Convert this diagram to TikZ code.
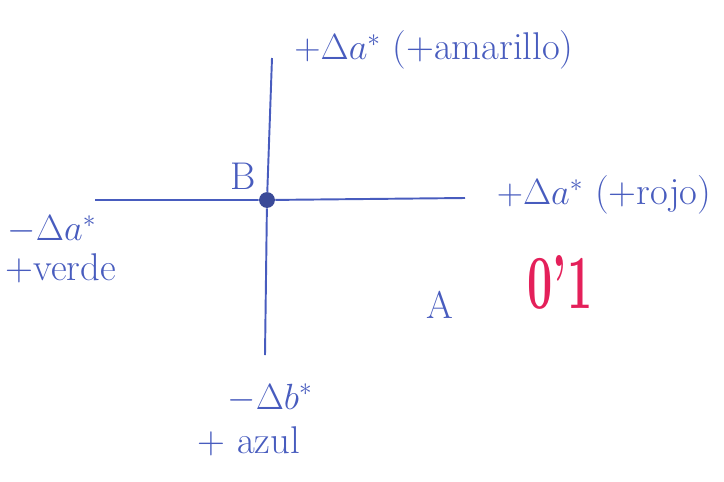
\documentclass[tikz,border=0pt]{standalone}
\usepackage{amsmath, amssymb}
\usepackage{graphicx}
\usepackage{tikz}
\usetikzlibrary{positioning, calc}

\definecolor{ink}{RGB}{72,92,190}
\definecolor{marker}{RGB}{228,32,90}

\begin{document}
\begin{tikzpicture}[
  x=0.02cm, y=-0.02cm,
  axis/.style={draw=ink, line width=1.1pt},
  lbl/.style={text=ink, font=\fontsize{22}{26}\selectfont, inner sep=1pt, align=center},
  dot/.style={circle, fill=ink!80!black, inner sep=0pt, minimum size=9pt}
]
  \useasboundingbox (0,0) rectangle (724,481);

  \node[dot] (origin) at (267,200) {};
  \coordinate (west) at (95,200);
  \coordinate (east) at (465,198);
  \coordinate (north) at (272,58);
  \coordinate (south) at (265,355);

  \draw[axis] (west) -- (origin) -- (east);
  \draw[axis] (north) -- (origin) -- (south);

  \node[lbl] (b) at (243,176) {B};
  \node[lbl] (yellow) at (434,50) {$+\Delta a^{*}$ (+amarillo)};
  \node[lbl] (red) at (604,195) {$+\Delta a^{*}$ (+rojo)};
  \node[lbl] (green) at (52,230) {$-\Delta a^{*}$};
  \node[lbl, below=3pt of green, xshift=5pt] (verde) {+verde};
  \node[lbl] (blue) at (270,398) {$-\Delta b^{*}$};
  \node[lbl, below=6pt of blue, xshift=-12pt] (azul) {+ azul};
  \node[lbl] (a) at (440,305) {A};
  \node[text=marker, font=\fontsize{30}{34}\selectfont\bfseries] (score) at (560,282) {\scalebox{0.85}[1.45]{0'1}};
\end{tikzpicture}
\end{document}
